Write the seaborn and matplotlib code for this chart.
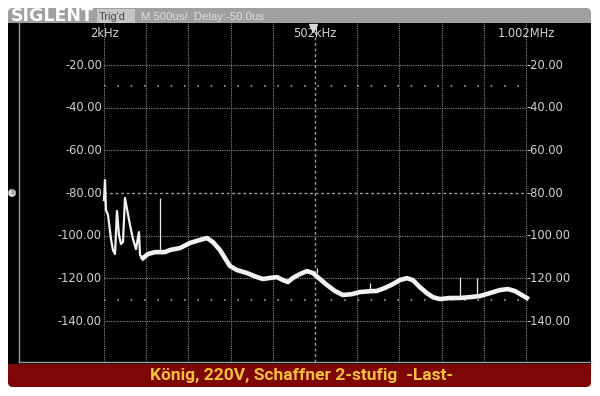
import matplotlib
matplotlib.use("Agg")
import matplotlib.pyplot as plt
from matplotlib.patches import FancyBboxPatch, Rectangle
import seaborn as sns

# ---------------- data ----------------
# low-frequency part of the spectrum (kHz, dB)
lf_freq = [2, 4.4, 6.7, 11.5, 18.6, 23.3, 28.1, 32.8, 37.5, 42.3, 47.0, 51.7,
           56.5, 63.6, 70.7, 77.8, 84.9, 87.3, 94.4]
lf_db = [-83.3, -73.9, -88.0, -90.3, -101.6, -106.7, -108.6, -88.4, -99.7,
         -103.9, -103.0, -82.3, -87.5, -95.0, -101.6, -106.3, -98.3, -109.1, -110.5]

# noise floor (kHz, dB)
floor_freq = [94.4, 106.2, 122.8, 137.0, 146.5, 158.3, 182.0, 205.7, 229.4, 246.0,
              260.2, 276.7, 288.6, 300.4, 317.0, 340.7, 364.4, 378.6, 395.2, 411.7,
              426.0, 437.8, 449.6, 466.2, 482.8, 497.0, 513.6, 530.2, 549.1, 568.1,
              589.4, 608.3, 634.4, 648.6, 667.5, 686.5, 703.1, 719.7, 733.9, 750.4,
              767.0, 781.2, 797.8, 821.5, 845.2, 868.9, 892.6, 916.3, 939.9, 958.9,
              975.4, 992.0, 1003.9]
floor_db = [-110.5, -108.6, -107.7, -107.7, -107.7, -106.7, -105.8, -103.4, -102.0, -101.1,
            -103.0, -106.7, -110.5, -114.2, -116.1, -117.5, -119.4, -120.3, -119.8, -119.4,
            -120.8, -121.7, -119.8, -118.0, -116.6, -117.5, -120.3, -123.1, -125.9, -127.8,
            -127.4, -126.4, -126.0, -125.9, -124.5, -122.7, -120.8, -119.9, -120.8, -124.1,
            -126.9, -128.8, -129.7, -129.2, -129.2, -128.8, -128.3, -126.9, -125.5, -125.0,
            -125.9, -127.8, -129.2]

# narrow spurious lines
spike_freq = [134.6, 506.5, 632.0, 845.2, 885.5]
spike_top = [-82.3, -115.2, -122.2, -119.4, -119.9]
spike_base = [-107.7, -117.5, -126.4, -129.2, -128.8]

# scale / labels
db_ticks = [-20, -40, -60, -80, -100, -120, -140]
db_labels = ["-20.00", "-40.00", "-60.00", "-80.00", "-100.00", "-120.00", "-140.00"]
freq_grid = [2, 102, 202, 302, 402, 502, 602, 702, 802, 902, 1002]
freq_labels = {2: "2kHz", 502: "502kHz", 1002: "1.002MHz"}
cursor_db = [-30, -130]
title = "König, 220V, Schaffner 2-stufig  -Last-"

# ---------------- figure ----------------
W, H = 600, 396
def fx(x): return x / W
def fy(y): return 1 - y / H

fig = plt.figure(figsize=(6, 3.96), dpi=100, facecolor="white")
asp = W / H

# top gray bar
fig.patches.append(FancyBboxPatch((fx(8), fy(40)), 583 / W, 32 / H,
                                  boxstyle="round,pad=0,rounding_size=0.008",
                                  mutation_aspect=asp, transform=fig.transFigure,
                                  fc="#a0a0a0", ec="none", zorder=-3))
# bottom red banner
fig.patches.append(FancyBboxPatch((fx(8), fy(387)), 583 / W, 47 / H,
                                  boxstyle="round,pad=0,rounding_size=0.008",
                                  mutation_aspect=asp, transform=fig.transFigure,
                                  fc="#7e0606", ec="none", zorder=-3))
# black screen body
fig.patches.append(Rectangle((fx(8), fy(364)), 583 / W, (364 - 23) / H,
                             transform=fig.transFigure, fc="black", ec="none", zorder=-2))
# Trig'd box
fig.patches.append(Rectangle((fx(97), fy(23)), 38 / W, 14 / H,
                             transform=fig.transFigure, fc="#c6c6c6", ec="none", zorder=-1))

ax = fig.add_axes([fx(19), fy(362), 572 / W, 339 / H])
ax.set_facecolor("black")
ax.set_xlim(-199.4, 1156.0)
ax.set_ylim(-159.2, -0.3)

# grid
gcol = "#858585"
for f in freq_grid:
    if f == 502:
        ax.axvline(f, color="#a0a0a0", lw=1.0, ls=(0, (2, 2)), zorder=1)
    else:
        ax.axvline(f, color=gcol, lw=0.8, ls=(0, (1, 1)), zorder=1)
for d in db_ticks:
    if d == -80:
        ax.hlines(d, 2, 1002, color="#a0a0a0", lw=1.0, ls=(0, (2, 2)), zorder=1)
    else:
        ax.hlines(d, 2, 1002, color=gcol, lw=0.8, ls=(0, (1, 1)), zorder=1)
ax.hlines(cursor_db, 2, 1002, color="#9a9a9a", lw=1.2, ls=(0, (1, 7)), zorder=1)

# traces
sns.lineplot(x=floor_freq, y=floor_db, ax=ax, color="#f2f2f2", lw=3.3,
             estimator=None, sort=False, legend=False, zorder=3)
sns.lineplot(x=lf_freq, y=lf_db, ax=ax, color="#f2f2f2", lw=1.6,
             estimator=None, sort=False, legend=False, zorder=3)
ax.vlines(spike_freq, spike_base, spike_top, color="#e8e8e8", lw=0.9, zorder=3)

# labels
tcol = "#d2d2d2"
for d, lab in zip(db_ticks, db_labels):
    ax.text(-3, d, lab, ha="right", va="center", fontsize=8.3, color=tcol)
    ax.text(1004, d, lab, ha="left", va="center", fontsize=8.3, color=tcol)
for f, lab in freq_labels.items():
    ax.text(f, -5.0, lab, ha="center", va="center", fontsize=8.3, color=tcol)
ax.plot([497], [-2.6], marker="v", ms=6, color="#d8d8d8", zorder=5, clip_on=False)

ax.set_xticks([])
ax.set_yticks([])
ax.set_xlabel("")
ax.set_ylabel("")
for s in ["top", "right"]:
    ax.spines[s].set_visible(False)
for s in ["left", "bottom"]:
    ax.spines[s].set_color("#9a9a9a")
    ax.spines[s].set_linewidth(1.0)

# header texts
fig.text(fx(11), fy(16), "SIGLENT", fontsize=12.5, fontweight="black", color="white",
         ha="left", va="center", family="DejaVu Sans")
fig.text(fx(99), fy(16.5), "Trig'd", fontsize=7.8, color="#4a4a4a",
         ha="left", va="center", family="Liberation Sans")
fig.text(fx(141), fy(16.5), "M 500us/  Delay:-50.0us", fontsize=8.2, color="#dcdcdc",
         ha="left", va="center", family="Liberation Sans")

# channel marker
fig.text(fx(12), fy(193), "1", fontsize=4.5, ha="center", va="center", color="#333333",
         bbox=dict(boxstyle="circle,pad=0.2", fc="#dcdcdc", ec="#999999", lw=0.5))

# banner title
fig.text(fx(302), fy(375.5), title, fontsize=12.5, fontweight="bold", color="#f2c040",
         family="Roboto", ha="center", va="center")

fig.savefig("out.png", dpi=100, facecolor="white")
